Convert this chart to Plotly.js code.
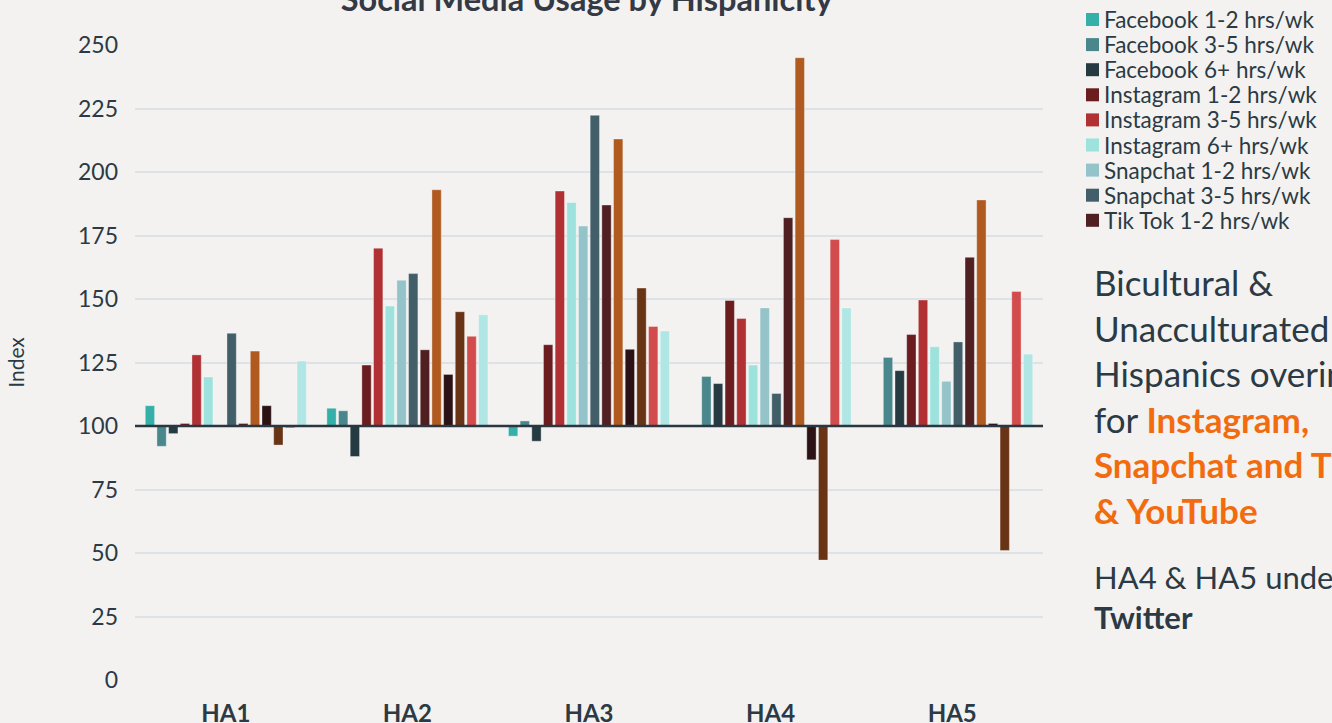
<!DOCTYPE html>
<html>
<head>
<meta charset="utf-8">
<script src="https://cdn.plot.ly/plotly-3.0.1.min.js"></script>
<style>
  html, body { margin: 0; padding: 0; background: #f3f2f0; }
  #chart { width: 1332px; height: 723px; }
</style>
</head>
<body>
<div id="chart"></div>
<script>
// Categories (Hispanicity segments)
const categories = ['HA1', 'HA2', 'HA3', 'HA4', 'HA5'];

// Series names (index values, base = 100)
const seriesNames = [
  'Facebook 1-2 hrs/wk', 'Facebook 3-5 hrs/wk', 'Facebook 6+ hrs/wk',
  'Instagram 1-2 hrs/wk', 'Instagram 3-5 hrs/wk', 'Instagram 6+ hrs/wk',
  'Snapchat 1-2 hrs/wk', 'Snapchat 3-5 hrs/wk',
  'Tik Tok 1-2 hrs/wk', 'Tik Tok 3-5 hrs/wk',
  'Twitter 1-2 hrs/wk', 'Twitter 3-5 hrs/wk',
  'YouTube 1-2 hrs/wk', 'YouTube 3-5 hrs/wk'
];

// Values per series, one per category
const facebook12  = [108, 107, 96, null, null];
const facebook35  = [92, 106, 102, 119.5, 127];
const facebook6   = [97, 88, 94, 116.7, 121.8];
const instagram12 = [101, 124, 132, 149.4, 136];
const instagram35 = [128, 170, 192.5, 142.3, 149.6];
const instagram6  = [119.3, 147.2, 188, 124, 131.2];
const snapchat12  = [null, 157.4, 178.7, 146.5, 117.6];
const snapchat35  = [136.5, 160, 222.3, 112.8, 133.1];
const tiktok12    = [101, 130, 187, 182, 166.4];
const tiktok35    = [129.5, 193, 213, 245, 189];
const twitter12   = [108, 120.3, 130.2, 86.7, 101];
const twitter35   = [92.5, 145, 154.3, 47.2, 51];
const youtube12   = [99.3, 135.3, 139.2, 173.4, 153];
const youtube35   = [125.6, 143.8, 137.4, 146.5, 128.3];

const seriesValues = [
  facebook12, facebook35, facebook6,
  instagram12, instagram35, instagram6,
  snapchat12, snapchat35,
  tiktok12, tiktok35,
  twitter12, twitter35,
  youtube12, youtube35
];

const seriesColors = [
  '#35b0a8', '#4a878d', '#263a42',
  '#6b1c1e', '#b03034', '#9de2dc',
  '#94c3ca', '#425e69',
  '#4f1f21', '#b05a20',
  '#2c1214', '#693415',
  '#d24c4e', '#b0e6e3'
];

// Only the first nine legend entries are visible in the reference
const legendVisibleCount = 9;

const BASE = 100;
const textColor = '#2b3a44';
const accent = '#f26b0f';
const fontFamily = 'Lato, "Open Sans", sans-serif';

// Geometry of the page (pixels)
const W = 1332, H = 723;
const M = { l: 135, r: 289, t: 45, b: 43 };
const plotW = W - M.l - M.r, plotH = H - M.t - M.b;
const px2paperX = px => (px - M.l) / plotW;
const px2paperY = py => (H - M.b - py) / plotH;

const traces = seriesNames.map((name, i) => ({
  type: 'bar',
  name: name,
  x: categories,
  y: seriesValues[i].map(v => (v == null ? null : v - BASE)),
  base: BASE,
  marker: {
    color: seriesColors[i],
    line: { color: 'rgba(255,255,255,0.35)', width: 1 }
  },
  showlegend: false
}));

// Custom legend (tight rows like the reference)
const legendShapes = [];
const legendAnnotations = [];
const legendTop = 19.5, legendStep = 25.1, sq = 13;
for (let i = 0; i < legendVisibleCount; i++) {
  const cy = legendTop + i * legendStep;
  legendShapes.push({
    type: 'rect', xref: 'paper', yref: 'paper',
    x0: px2paperX(1086), x1: px2paperX(1086 + sq),
    y0: px2paperY(cy + sq / 2), y1: px2paperY(cy - sq / 2),
    fillcolor: seriesColors[i], line: { width: 0 }
  });
  legendAnnotations.push({
    xref: 'paper', yref: 'paper',
    x: px2paperX(1102), y: px2paperY(cy),
    xanchor: 'left', yanchor: 'middle', showarrow: false,
    font: { size: 22.5, color: textColor },
    text: seriesNames[i]
  });
}

const layout = {
  width: W,
  height: H,
  paper_bgcolor: '#f3f2f0',
  plot_bgcolor: '#f3f2f0',
  font: { family: fontFamily, color: textColor },
  margin: M,
  barmode: 'group',
  bargap: 0.1,
  bargroupgap: 0.2,
  showlegend: false,
  title: {
    text: 'Social Media Usage by Hispanicity',
    font: { size: 32.5, weight: 'bold', color: '#333a45', family: fontFamily },
    x: 0.4405, xanchor: 'center',
    y: 1, yanchor: 'middle', yref: 'container'
  },
  xaxis: {
    type: 'category',
    showgrid: false,
    showline: false,
    zeroline: false,
    ticks: '',
    tickfont: { size: 24, weight: 'bold', color: textColor },
    ticklabelstandoff: 17
  },
  yaxis: {
    range: [0, 250],
    dtick: 25,
    showgrid: true,
    gridcolor: '#dde2e7',
    gridwidth: 2,
    zeroline: false,
    showline: false,
    ticks: '',
    tickfont: { size: 23, color: textColor },
    ticklabelstandoff: 16,
    title: { text: 'Index', font: { size: 21, color: textColor }, standoff: 47 }
  },
  shapes: [{
    type: 'line', xref: 'paper', yref: 'y',
    x0: 0, x1: 1, y0: BASE, y1: BASE,
    line: { color: '#2a3640', width: 2.5 },
    layer: 'above'
  }].concat(legendShapes),
  annotations: [
    {
      xref: 'paper', yref: 'paper', x: px2paperX(1092), y: 0.663,
      xanchor: 'left', yanchor: 'top', align: 'left', showarrow: false,
      font: { size: 35, color: textColor },
      text: 'Bicultural &amp;<br>Unacculturated<br>Hispanics overindex<br>for <b><span style="color:' + accent + '">Instagram,</span></b><br><b><span style="color:' + accent + '">Snapchat and Tik Tok</span></b><br><b><span style="color:' + accent + '">&amp; YouTube</span></b>'
    },
    {
      xref: 'paper', yref: 'paper', x: px2paperX(1092), y: 0.196,
      xanchor: 'left', yanchor: 'top', align: 'left', showarrow: false,
      font: { size: 31, color: textColor },
      text: 'HA4 &amp; HA5 underindex for<br><b>Twitter</b>'
    }
  ].concat(legendAnnotations)
};

Plotly.newPlot('chart', traces, layout, { displayModeBar: false, responsive: false });
</script>
</body>
</html>
